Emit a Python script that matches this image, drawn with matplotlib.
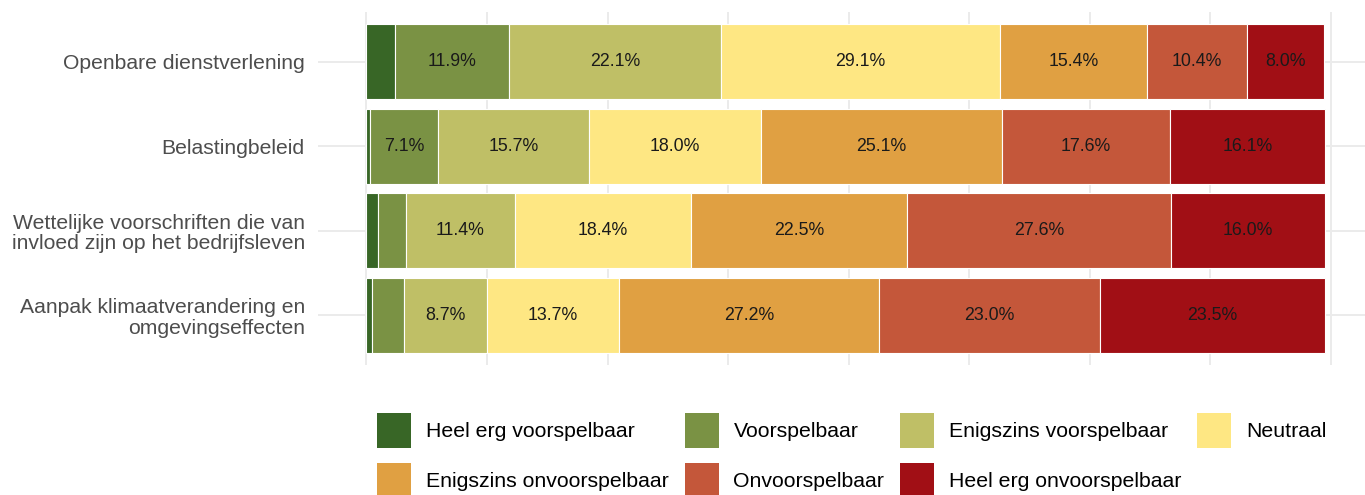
import numpy as np
import matplotlib
matplotlib.use("Agg")
import matplotlib.pyplot as plt
from matplotlib.patches import Patch

plt.rcParams['font.family'] = ['Liberation Sans', 'DejaVu Sans']

categories = [
    "Openbare dienstverlening",
    "Belastingbeleid",
    "Wettelijke voorschriften die van\ninvloed zijn op het bedrijfsleven",
    "Aanpak klimaatverandering en\nomgevingseffecten",
]
levels = [
    "Heel erg voorspelbaar",
    "Voorspelbaar",
    "Enigszins voorspelbaar",
    "Neutraal",
    "Enigszins onvoorspelbaar",
    "Onvoorspelbaar",
    "Heel erg onvoorspelbaar",
]

# shares in % per category (same order as categories)
heel_erg_voorspelbaar = [3.0, 0.4, 1.2, 0.6]
voorspelbaar = [11.9, 7.1, 2.9, 3.3]
enigszins_voorspelbaar = [22.1, 15.7, 11.4, 8.7]
neutraal = [29.1, 18.0, 18.4, 13.7]
enigszins_onvoorspelbaar = [15.4, 25.1, 22.5, 27.2]
onvoorspelbaar = [10.4, 17.6, 27.6, 23.0]
heel_erg_onvoorspelbaar = [8.0, 16.1, 16.0, 23.5]

colors = ["#386626", "#7A9244", "#BFBF66", "#FEE783",
          "#E0A042", "#C4573A", "#A10F15"]

series = [heel_erg_voorspelbaar, voorspelbaar, enigszins_voorspelbaar, neutraal,
          enigszins_onvoorspelbaar, onvoorspelbaar, heel_erg_onvoorspelbaar]

fig = plt.figure(figsize=(13.65, 4.95), dpi=100)
ax = fig.add_axes([318 / 1365, 1 - 365 / 495, 1 - 318 / 1365, (365 - 12) / 495])

y = np.arange(len(categories))
left = np.zeros(len(categories))
for vals, col in zip(series, colors):
    vals = np.array(vals)
    ax.barh(y, vals, left=left, height=0.885, color=col,
            edgecolor="white", linewidth=0.8, zorder=2)
    for yi, (l, v) in enumerate(zip(left, vals)):
        if v >= 5:
            ax.text(l + v / 2, yi, f"{v:.1f}%", ha="center", va="center",
                    fontsize=12.8, color="#1a1a1a", zorder=3)
    left += vals

# grid
for gx in np.arange(9) * 12.58:
    ax.axvline(gx, color="#EBEBEB", linewidth=1.4, zorder=0)
for yi in y:
    ax.axhline(yi, color="#EBEBEB", linewidth=1.4, zorder=0)

ax.set_xlim(-5.06, 104.2)
ax.set_ylim(len(categories) - 1 + 0.59, -0.59)
ax.set_yticks(y)
ax.set_yticklabels(categories, fontsize=15.2, color="#4D4D4D", linespacing=1.1)
ax.set_xticks([])
ax.tick_params(axis="y", length=0, pad=9.5)
for s in ax.spines.values():
    s.set_visible(False)

handles = [Patch(facecolor=c, edgecolor="none", label=l) for c, l in zip(colors, levels)]
order = [0, 4, 1, 5, 2, 6, 3]
fig.legend([handles[i] for i in order], [levels[i] for i in order],
           ncol=4, loc="upper left", bbox_to_anchor=(377 / 1365, 1 - 413 / 495),
           frameon=False, fontsize=15.3, handlelength=1.6, handleheight=2.16,
           handletextpad=0.7, columnspacing=0.75, labelspacing=0.7,
           borderpad=0, borderaxespad=0)

fig.savefig("out.png", dpi=100, facecolor="white")
